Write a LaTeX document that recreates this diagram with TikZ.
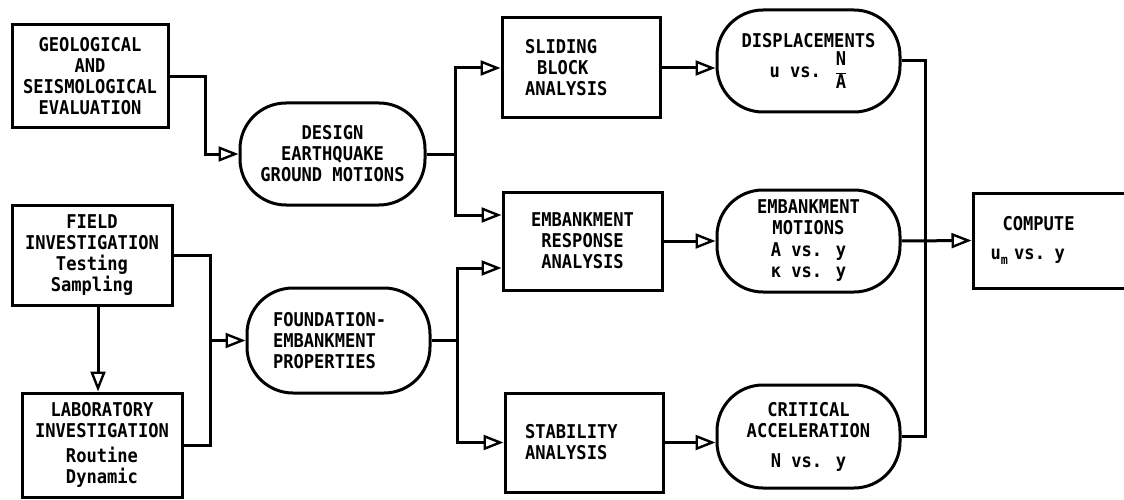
\documentclass[tikz,border=0pt]{standalone}
\usepackage{fontspec}
\newfontfamily\dia[FakeStretch=0.9]{DejaVu Sans Mono}
\usetikzlibrary{arrows.meta}
\begin{document}
\begin{tikzpicture}[x=1pt,y=-1pt,
  every node/.style={font=\dia\bfseries\fontsize{19}{21}\selectfont, inner sep=0pt},
  boxnode/.style={draw, line width=3pt, rectangle, align=center},
  ovalnode/.style={draw, line width=3pt, rectangle, rounded corners=46pt, align=center},
  conn/.style={line width=3pt},
  arr/.style={line width=3pt, -{Triangle[length=20pt,width=15pt,fill=white,line width=2.4pt]}}
]
\clip (0,0) rectangle (1124,500);
\fill[white] (0,0) rectangle (1124,500);

% left column
\node[boxnode, minimum width=156pt, minimum height=103pt] (geo) at (90,76.5)
  {GEOLOGICAL\\AND\\SEISMOLOGICAL\\EVALUATION};
\node[boxnode, minimum width=160pt, minimum height=100pt] (field) at (92,255)
  {FIELD\\INVESTIGATION\\Testing\\Sampling};
\node[boxnode, minimum width=160pt, minimum height=104pt] (lab) at (102,445)
  {LABORATORY\\INVESTIGATION\\[4pt]Routine\\Dynamic};

% second column
\node[ovalnode, minimum width=185pt, minimum height=102pt] (design) at (332.5,154)
  {DESIGN\\EARTHQUAKE\\GROUND MOTIONS};
\node[ovalnode, minimum width=183pt, minimum height=105pt, text width=131pt, align=left] (found) at (338.5,340.5)
  {FOUNDATION-\\EMBANKMENT\\PROPERTIES};

% third column
\node[boxnode, minimum width=158pt, minimum height=100pt, text width=112pt, align=left] (slide) at (581,68)
  {SLIDING\\\hspace*{12pt}BLOCK\\ANALYSIS};
\node[boxnode, minimum width=159pt, minimum height=98pt] (embresp) at (582.5,241)
  {EMBANKMENT\\RESPONSE\\ANALYSIS};
\node[boxnode, minimum width=158pt, minimum height=99pt, text width=118pt, align=left] (stab) at (584,442.5)
  {STABILITY\\ANALYSIS};

% fourth column
\node[ovalnode, minimum width=183pt, minimum height=102pt] (disp) at (808.5,61)
  {DISPLACEMENTS\\[3pt]u vs. $\displaystyle\frac{\hbox{N}}{\hbox{A}}$};
\node[ovalnode, minimum width=183pt, minimum height=102pt] (embmot) at (808.5,241)
  {EMBANKMENT\\MOTIONS\\[1pt]A vs. y\\κ vs. y};
\node[ovalnode, minimum width=183pt, minimum height=103pt] (crit) at (808.5,436.5)
  {CRITICAL\\ACCELERATION\\[9pt]N vs. y};

% compute
\node[boxnode, minimum width=167pt, minimum height=95pt, text width=132pt, align=left] (comp) at (1056.5,240.5)
  {\hspace*{12pt}COMPUTE\\[8pt]u\raisebox{-5pt}{\fontsize{13}{13}\selectfont m} vs. y};

% junctions
\coordinate (j1) at (455,154);
\coordinate (j2) at (457,340.5);
\coordinate (j3) at (210,340.5);
\coordinate (j4) at (925,241);

% connectors
\draw[arr] (geo.east) -- ++(36,0) |- (design.west);
\draw[conn] (design.east) -- (j1);
\draw[arr] (j1) |- (slide.west);
\draw[arr] (j1) |- ([yshift=26pt]embresp.west);
\draw[conn] (found.east) -- (j2);
\draw[arr] (j2) |- ([yshift=-27pt]embresp.west);
\draw[arr] (j2) |- (stab.west);
\draw[conn] (field.east) -| (j3) |- (lab.east);
\draw[arr] (j3) -- (found.west);
\draw[arr] ([xshift=6pt]field.south) -- ([xshift=-4pt]lab.north);
\draw[arr] (slide.east) -- (slide.east -| disp.west);
\draw[arr] (embresp.east) -- (embresp.east -| embmot.west);
\draw[arr] (stab.east) -- (stab.east -| crit.west);
\draw[conn] (disp.east) -| (j4);
\draw[conn] (crit.east) -| (j4);
\draw[arr] (embmot.east) -- (comp.west);
\end{tikzpicture}
\end{document}
